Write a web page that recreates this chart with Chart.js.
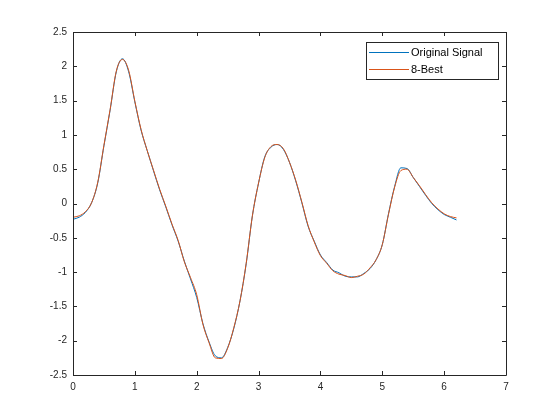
<!DOCTYPE html>
<html>
<head>
<meta charset="utf-8">
<script src="https://cdn.jsdelivr.net/npm/chart.js@4/dist/chart.umd.min.js"></script>
<style>
  body { margin: 0; background: #fff; }
  canvas { display: block; }
</style>
</head>
<body>
<canvas id="chart" width="560" height="420"></canvas>
<script>
// x samples and the two curves
let xs = [0.0, 0.1, 0.2, 0.3, 0.4, 0.5, 0.6, 0.7, 0.8, 0.9,
          1.0, 1.1, 1.2, 1.3, 1.4, 1.5, 1.6, 1.7, 1.8, 1.9,
          2.0, 2.1, 2.2, 2.3, 2.4, 2.5, 2.6, 2.7, 2.8, 2.9,
          3.0, 3.1, 3.2, 3.3, 3.4, 3.5, 3.6, 3.7, 3.8, 3.9,
          4.0, 4.1, 4.2, 4.3, 4.4, 4.5, 4.6, 4.7, 4.8, 4.9,
          5.0, 5.1, 5.2, 5.3, 5.4, 5.5, 5.6, 5.7, 5.8, 5.9,
          6.0, 6.1, 6.2];

let original = [-0.23, -0.20, -0.13, 0.01, 0.30, 0.84, 1.36, 1.92, 2.11, 1.92,
                1.48, 1.07, 0.77, 0.48, 0.20, -0.05, -0.31, -0.55, -0.84, -1.10,
                -1.37, -1.75, -2.02, -2.22, -2.25, -2.10, -1.82, -1.42, -0.88, -0.18,
                0.30, 0.68, 0.82, 0.86, 0.79, 0.60, 0.33, 0.01, -0.33, -0.55,
                -0.75, -0.86, -0.97, -1.01, -1.06, -1.07, -1.07, -1.02, -0.95, -0.82,
                -0.60, -0.15, 0.25, 0.52, 0.51, 0.38, 0.25, 0.12, 0.00, -0.09,
                -0.16, -0.20, -0.24];

let best8 = [-0.20, -0.18, -0.12, 0.01, 0.31, 0.85, 1.37, 1.93, 2.10, 1.94,
             1.49, 1.08, 0.77, 0.49, 0.21, -0.04, -0.30, -0.54, -0.85, -1.08,
             -1.33, -1.76, -2.03, -2.25, -2.26, -2.11, -1.81, -1.42, -0.87, -0.18,
             0.30, 0.67, 0.83, 0.86, 0.80, 0.60, 0.34, 0.02, -0.32, -0.56,
             -0.76, -0.87, -0.98, -1.03, -1.05, -1.08, -1.06, -1.03, -0.94, -0.82,
             -0.60, -0.16, 0.24, 0.48, 0.50, 0.38, 0.26, 0.13, 0.01, -0.08,
             -0.15, -0.19, -0.21];

let seriesNames = ["Original Signal", "8-Best"];
let seriesColors = ["#0072BD", "#D95319"];

const axisColor = "#262626";
const tickFont = { family: "'Liberation Sans', Arial, sans-serif", size: 10 };

function toPoints(ys) {
    return xs.map((x, i) => ({ x: x, y: ys[i] }));
}

// MATLAB style box with inward ticks on all four sides, plus the legend
const matlabFrame = {
    id: "matlabFrame",
    afterDraw(chart) {
        const ctx = chart.ctx;
        const a = chart.chartArea;
        const sx = chart.scales.x;
        const sy = chart.scales.y;
        const tl = 4;
        ctx.save();
        ctx.strokeStyle = axisColor;
        ctx.lineWidth = 1;
        ctx.beginPath();
        ctx.rect(Math.round(a.left) + 0.5, Math.round(a.top) + 0.5,
                 Math.round(a.right - a.left), Math.round(a.bottom - a.top));
        sx.ticks.forEach(t => {
            let p = Math.round(sx.getPixelForValue(t.value)) + 0.5;
            ctx.moveTo(p, a.bottom); ctx.lineTo(p, a.bottom - tl);
            ctx.moveTo(p, a.top); ctx.lineTo(p, a.top + tl);
        });
        sy.ticks.forEach(t => {
            let p = Math.round(sy.getPixelForValue(t.value)) + 0.5;
            ctx.moveTo(a.left, p); ctx.lineTo(a.left + tl, p);
            ctx.moveTo(a.right, p); ctx.lineTo(a.right - tl, p);
        });
        ctx.stroke();

        // legend
        let bx = 366.5, by = 42.5, bw = 132, bh = 37;
        ctx.fillStyle = "#fff";
        ctx.fillRect(bx, by, bw, bh);
        ctx.strokeRect(bx, by, bw, bh);
        ctx.font = "11px 'Liberation Sans', Arial, sans-serif";
        ctx.textBaseline = "middle";
        seriesNames.forEach((name, i) => {
            let ly = Math.round(by + 9 + i * 17.5) + 0.5;
            ctx.strokeStyle = seriesColors[i];
            ctx.beginPath();
            ctx.moveTo(369, ly);
            ctx.lineTo(409, ly);
            ctx.stroke();
            ctx.fillStyle = "#000";
            ctx.fillText(name, 411, ly);
        });
        ctx.restore();
    }
};

let chart = new Chart(document.getElementById("chart"), {
    type: "line",
    data: {
        datasets: [{
            label: seriesNames[0],
            data: toPoints(original),
            borderColor: seriesColors[0],
            borderWidth: 1,
            pointRadius: 0,
            cubicInterpolationMode: "monotone",
            order: 1
        }, {
            label: seriesNames[1],
            data: toPoints(best8),
            borderColor: seriesColors[1],
            borderWidth: 1,
            pointRadius: 0,
            cubicInterpolationMode: "monotone",
            order: 0
        }]
    },
    options: {
        responsive: false,
        animation: false,
        layout: { padding: { top: 32, right: 54, left: 0, bottom: 0 } },
        plugins: {
            legend: { display: false },
            tooltip: { enabled: false }
        },
        scales: {
            x: {
                type: "linear",
                min: 0,
                max: 7,
                grid: { display: false, drawTicks: false },
                border: { display: false },
                afterFit(s) { s.height = 45; },
                ticks: {
                    stepSize: 1,
                    padding: 6,
                    color: axisColor,
                    font: tickFont,
                    maxRotation: 0,
                    callback: v => String(v)
                }
            },
            y: {
                type: "linear",
                min: -2.5,
                max: 2.5,
                grid: { display: false, drawTicks: false },
                border: { display: false },
                afterFit(s) { s.width = 73; },
                ticks: {
                    stepSize: 0.5,
                    padding: 6,
                    color: axisColor,
                    font: tickFont,
                    callback: v => String(v)
                }
            }
        }
    },
    plugins: [matlabFrame]
});
</script>
</body>
</html>
